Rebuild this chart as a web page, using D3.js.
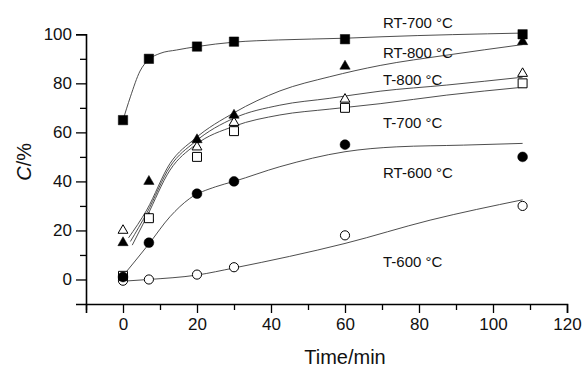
<!DOCTYPE html>
<html>
<head>
<meta charset="utf-8">
<script src="https://cdn.jsdelivr.net/npm/d3@7"></script>
<style>
  html, body { margin: 0; padding: 0; background: #fff; }
  svg { display: block; font-family: "Liberation Sans", Arial, Helvetica, sans-serif; }
</style>
</head>
<body>
<svg id="chart" width="582" height="368"></svg>
<script>
// ---- measured data (time in min, C in %) ----
const times = [0, 7, 20, 30, 60, 108];
const rt700 = [65, 90, 95, 97, 98, 100];
const rt800 = [15, 40, 57, 67, 87, 97];
const t800  = [20, 25, 54, 64, 73.5, 84];
const t700  = [1.5, 25, 50, 60.5, 70, 80];
const rt600 = [1, 15, 35, 40, 55, 50];
const t600  = [-0.5, 0, 2, 5, 18, 30];

// ---- fitted curves ----
const fitRT700T = [0, 2, 4.6, 7, 10, 14.5, 20, 30, 42, 60, 70, 108];
const fitRT700V = [65, 74.5, 85, 89.7, 92.2, 93.6, 95, 96.8, 97.7, 98.4, 99, 100.5];
const fitRT800T = [1.5, 6.4, 12.7, 19.5, 30, 42.4, 55.9, 69.5, 87.5, 108];
const fitRT800V = [17, 28.3, 47.3, 57.5, 68, 76.9, 82.7, 87.3, 91.5, 95.8];
const fitT800T  = [2, 6.4, 12.7, 19.5, 30, 42.4, 55.9, 69.5, 87.5, 108];
const fitT800V  = [15.5, 27, 46, 56.2, 65.8, 71.1, 73.9, 76.8, 79.3, 82.5];
const fitT700T  = [2.5, 6.4, 12.7, 19.5, 30, 42.4, 55.9, 69.5, 87.5, 108];
const fitT700V  = [14, 25.5, 44.6, 54.8, 62.5, 67.1, 69.5, 71.7, 75.2, 78.4];
const fitRT600T = [0, 7, 12.7, 18, 25, 30, 42.4, 60, 74, 92, 108];
const fitRT600V = [1.5, 14.5, 25.6, 33, 37.8, 40, 46, 52.1, 54.1, 54.8, 55.5];
const fitT600T  = [0, 7, 20, 30, 60, 83, 108];
const fitT600V  = [-0.7, 0, 1.8, 4.7, 14.7, 24.2, 32.5];

// ---- labels ----
const seriesLabels = ["RT-700 °C", "RT-800 °C", "T-800 °C", "T-700 °C", "RT-600 °C", "T-600 °C"];
const labelValues  = [102.6, 90.3, 79.3, 61.8, 41.4, 5.1];
const xTicks = [0, 20, 40, 60, 80, 100, 120];
const xMinor = [-10, 10, 30, 50, 70, 90, 110];
const yTicks = [0, 20, 40, 60, 80, 100];
const yMinor = [10, 30, 50, 70, 90];

const svg = d3.select("#chart");
const x = d3.scaleLinear([-10, 120], [86, 567]);
const y = d3.scaleLinear([-10, 100], [304, 34.3]);

// axes
const xAxisG = svg.append("g").attr("transform", `translate(0,${y(-10)})`);
xAxisG.call(d3.axisBottom(x).tickValues(xTicks).tickSize(9).tickPadding(5).tickFormat(d3.format("d")));
xAxisG.append("g").call(d3.axisBottom(x).tickValues(xMinor).tickSize(6).tickFormat(""))
  .select(".domain").remove();
const yAxisG = svg.append("g").attr("transform", `translate(${x(-10)},0)`);
yAxisG.call(d3.axisLeft(y).tickValues(yTicks).tickSize(10).tickPadding(4).tickFormat(d3.format("d")));
yAxisG.append("g").call(d3.axisLeft(y).tickValues(yMinor).tickSize(6).tickFormat(""))
  .select(".domain").remove();

svg.selectAll(".domain").attr("stroke", "#000").attr("stroke-width", 1.6);
svg.selectAll(".tick line").attr("stroke", "#000").attr("stroke-width", 1.3);
svg.selectAll(".tick text").attr("font-size", 17).attr("fill", "#111")
  .attr("font-family", "'Liberation Sans', Arial, Helvetica, sans-serif");

// axis titles
svg.append("text").attr("x", x(60)).attr("y", 364).attr("text-anchor", "middle")
  .attr("font-size", 20).attr("fill", "#111").text("Time/min");
const yt = svg.append("text").attr("transform", `translate(31,${y(48)}) rotate(-90)`)
  .attr("text-anchor", "middle").attr("font-size", 20).attr("fill", "#111");
yt.append("tspan").attr("font-style", "italic").text("C");
yt.append("tspan").text("/%");

// fitted lines
const line = d3.line().x(d => x(d[0])).y(d => y(d[1])).curve(d3.curveMonotoneX);
const fits = [
  [fitRT700T, fitRT700V], [fitRT800T, fitRT800V], [fitT800T, fitT800V],
  [fitT700T, fitT700V], [fitRT600T, fitRT600V], [fitT600T, fitT600V]
];
fits.forEach(([ts, vs]) => {
  svg.append("path").datum(ts.map((t, i) => [t, vs[i]]))
    .attr("d", line).attr("fill", "none").attr("stroke", "#3a3a3a").attr("stroke-width", 0.9);
});

// markers
const series = [
  { v: t600,  sym: d3.symbolCircle,   size: 66, filled: false },
  { v: t800,  sym: d3.symbolTriangle, size: 42, filled: false },
  { v: t700,  sym: d3.symbolSquare,   size: 80, filled: false },
  { v: rt600, sym: d3.symbolCircle,   size: 76, filled: true },
  { v: rt800, sym: d3.symbolTriangle, size: 46, filled: true },
  { v: rt700, sym: d3.symbolSquare,   size: 88, filled: true }
];
series.forEach(s => {
  svg.append("g").selectAll("path").data(times.map((t, i) => [t, s.v[i]])).join("path")
    .attr("transform", d => `translate(${x(d[0])},${y(d[1])})`)
    .attr("d", d3.symbol().type(s.sym).size(s.size))
    .attr("fill", s.filled ? "#000" : "#fff")
    .attr("stroke", "#000").attr("stroke-width", s.filled ? 0.5 : 1);
});

// series labels
svg.append("g").selectAll("text").data(seriesLabels).join("text")
  .attr("x", 383).attr("y", (d, i) => y(labelValues[i]))
  .attr("font-size", 15).attr("fill", "#111").text(d => d);
</script>
</body>
</html>
